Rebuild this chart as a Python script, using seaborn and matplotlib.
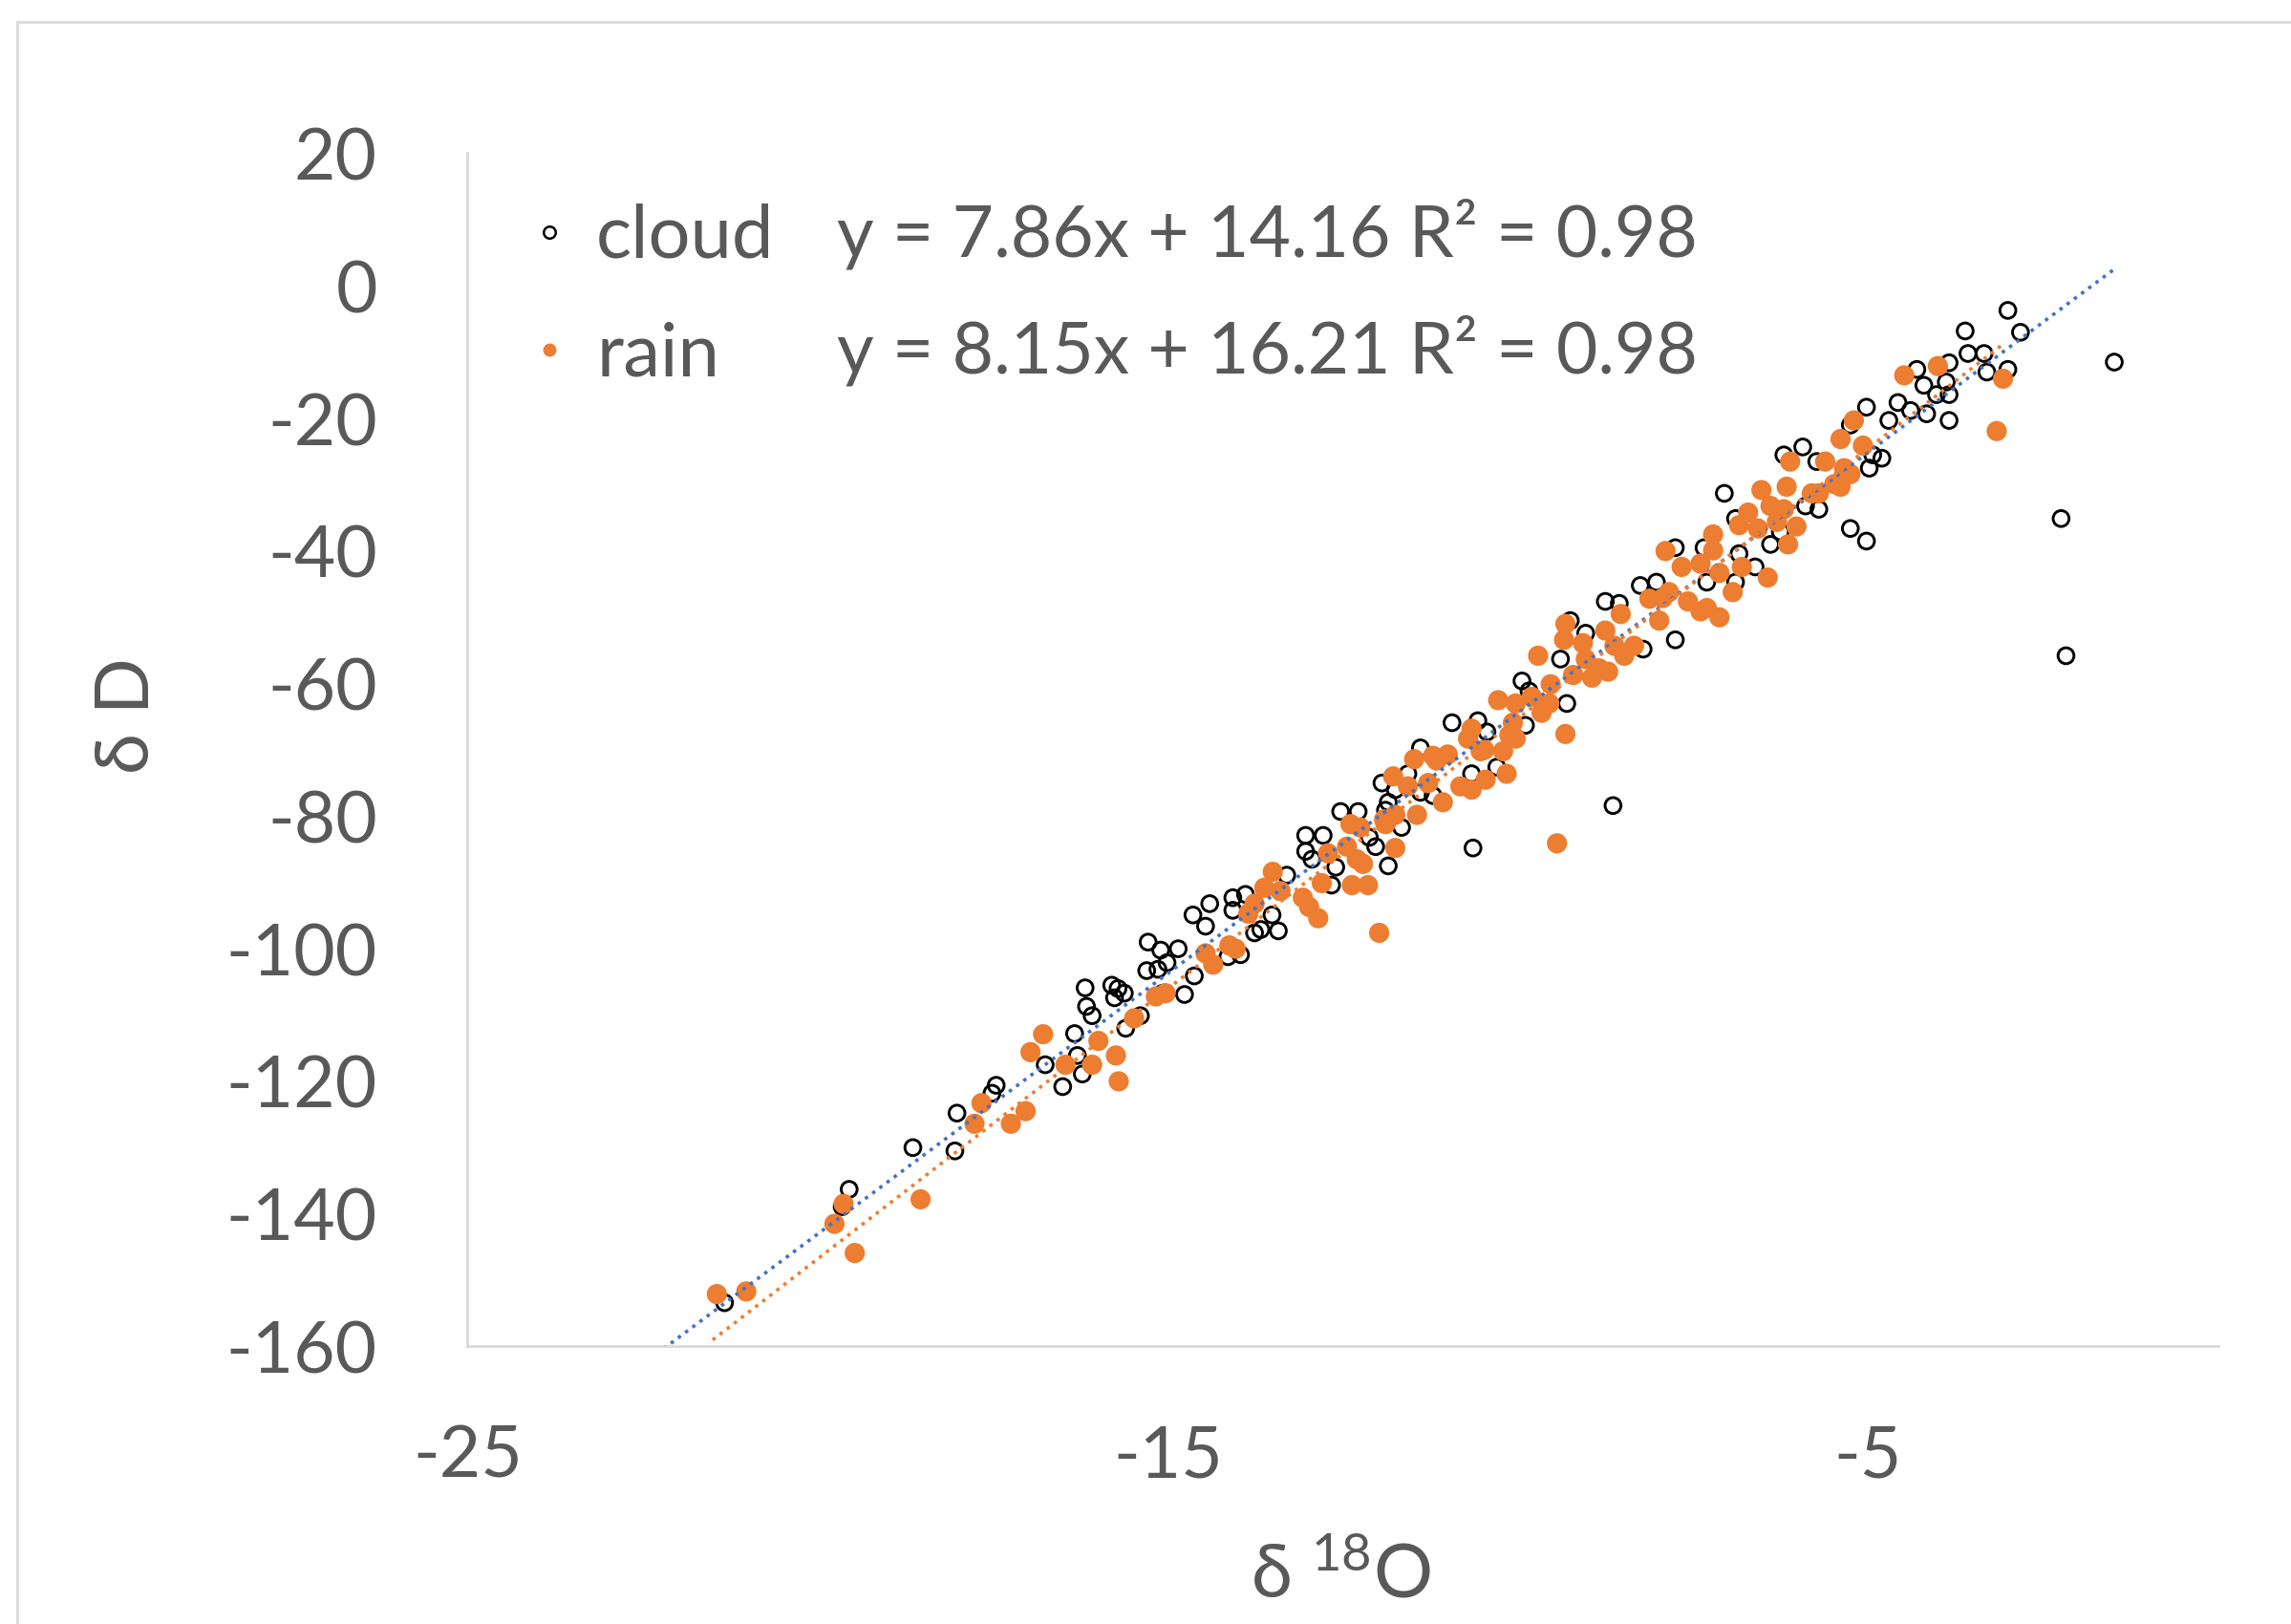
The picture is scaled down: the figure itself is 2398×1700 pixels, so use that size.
import matplotlib
matplotlib.use("Agg")
import matplotlib.pyplot as plt
from matplotlib.lines import Line2D
from matplotlib.patches import Rectangle
import numpy as np
import pandas as pd
import seaborn as sns

# δ18O / δD readings (per mil)
cloud_x = [-21.33, -19.55, -19.65, -18.64, -18.04, -18.01, -17.51, -17.45, -16.75, -16.50,
           -16.33, -16.29, -16.22, -16.18, -16.16, -16.08, -15.80, -15.71, -15.76, -15.60,
           -15.62, -15.39, -15.30, -15.28, -15.07, -15.10, -15.14, -15.01, -14.85, -14.76,
           -14.64, -14.62, -14.46, -14.40,
           -14.07, -13.89, -14.07, -13.67, -13.42, -13.76, -13.96, -13.30, -13.03, -12.78,
           -13.03, -12.94, -12.66, -12.53, -12.28, -12.12, -14.14, -13.51, -12.60,
           -12.03, -11.85, -11.66, -11.39, -11.21, -11.94, -11.75, -11.85, -11.57, -11.39,
           -10.94, -10.57, -10.66, -10.30, -10.44, -10.64, -11.89,
           -9.94, -9.84, -9.39, -9.25, -9.03, -8.75, -8.55, -8.21, -8.25, -9.30,
           -9.89, -8.64,
           -8.02, -7.75, -7.34, -7.30, -6.89, -6.89, -7.05, -6.84, -6.61, -6.39,
           -7.75,
           -5.93, -6.20, -5.02, -5.25, -4.93, -4.80, -4.98, -4.70, -4.57, -4.39,
           -4.30, -4.20, -4.16, -4.02, -3.88, -3.84, -3.84, -3.84, -3.57, -3.34,
           -3.30, -5.25, -6.25, -5.89, -5.70, -5.73, -5.02,
           -3.61, -3.00, -3.00, -2.82, -1.48, -2.24, -2.17]
cloud_y = [-153.4, -136.3, -138.9, -130.0, -130.5, -124.8, -121.8, -120.6, -117.5, -120.8,
           -112.8, -116.1, -118.9, -105.9, -108.7, -110.1, -105.5, -106.0, -107.4, -112.0,
           -106.7, -110.1, -103.3, -99.0, -106.7, -100.2, -103.1, -102.1, -100.0, -106.9,
           -94.9, -104.1, -96.6, -93.2,
           -92.3, -91.8, -94.2, -97.1, -97.3, -97.6, -100.9, -88.9, -82.9, -82.9,
           -85.3, -86.5, -90.4, -79.3, -79.3, -83.2, -101.2, -94.9, -87.7,
           -84.6, -87.5, -81.7, -76.4, -76.9, -75.0, -76.0, -77.9, -73.6, -69.7,
           -65.9, -65.6, -73.6, -72.6, -67.3, -84.8, -79.1,
           -59.6, -61.1, -56.3, -50.5, -52.4, -47.6, -47.9, -54.8, -45.2, -63.0,
           -66.3, -78.4,
           -44.7, -39.5, -39.5, -44.7, -44.7, -35.1, -31.3, -40.4, -42.4, -39.0,
           -53.4,
           -24.3, -25.5, -18.3, -21.0, -25.5, -26.0, -27.5, -20.3, -17.6, -18.8,
           -12.6, -15.0, -19.3, -16.4, -14.5, -11.6, -16.4, -20.3, -10.2, -10.2,
           -13.0, -36.6, -37.1, -33.2, -33.7, -26.5, -38.5,
           -6.8, -12.6, -3.7, -7.0, -11.5, -35.1, -55.8]

rain_x = [-21.44, -21.02, -19.76, -19.63, -19.47, -18.53, -17.76, -17.66, -17.24, -17.03,
          -16.96, -16.78, -16.46, -16.08, -15.99, -15.74, -15.70, -15.48, -15.17, -15.03,
          -14.46, -14.35,
          -14.12, -14.03, -13.85, -13.76, -13.62, -13.50, -13.39, -13.07, -12.98, -12.85,
          -12.80, -12.71, -12.44, -12.30, -12.21, -12.39, -12.25, -12.37, -12.14,
          -11.98, -11.89, -11.75, -11.78, -11.91, -11.75, -11.57, -11.48, -11.44, -11.28,
          -11.16, -11.07, -11.00, -10.82, -10.66, -10.71, -10.66, -10.48, -10.46, -10.21,
          -10.16, -10.28, -10.53, -11.21,
          -10.07, -10.03, -9.71, -9.80, -9.66, -9.53, -9.32, -9.34, -9.32, -9.07,
          -9.03, -8.84, -8.71, -8.75, -8.62, -8.53, -8.48, -10.12, -10.03, -9.21,
          -8.94, -9.44, -9.55, -8.34,
          -8.12, -7.89, -7.98, -7.66, -7.57, -7.39, -7.21, -7.21, -7.30, -7.12,
          -7.12, -6.93, -6.84, -6.80, -6.71, -6.52, -6.57, -6.43, -6.39, -7.93,
          -7.39, -7.84,
          -6.11, -6.16, -6.20, -6.02, -5.80, -5.61, -5.39, -5.48, -5.34, -5.20,
          -5.07, -5.25, -4.48, -4.00, -3.16, -3.07, -6.14, -5.70, -5.39, -6.30]
rain_y = [-152.1, -151.7, -141.5, -138.5, -145.9, -137.8, -126.4, -123.3, -126.4, -124.5,
          -115.6, -112.9, -117.5, -117.5, -113.9, -116.1, -120.0, -110.5, -107.2, -106.7,
          -100.7, -102.4,
          -99.5, -100.0, -94.7, -93.2, -90.8, -88.4, -91.3, -92.3, -93.7, -95.4,
          -90.1, -85.6, -84.6, -86.5, -87.2, -81.2, -81.7, -90.4, -90.4,
          -97.6, -81.2, -84.8, -74.0, -80.5, -79.8, -75.5, -71.4, -79.8, -75.0,
          -71.6, -77.9, -70.7, -75.5, -76.0, -68.3, -66.8, -70.0, -74.5, -70.2,
          -73.6, -62.5, -70.2, -70.9,
          -65.9, -63.0, -55.8, -62.0, -64.4, -60.1, -51.0, -53.4, -67.6, -53.9,
          -56.3, -57.7, -58.2, -52.0, -54.3, -49.5, -55.8, -67.8, -68.3, -58.7,
          -59.1, -84.1, -63.0, -54.3,
          -47.2, -40.0, -50.5, -42.4, -47.6, -41.9, -37.5, -39.9, -48.6, -50.0,
          -43.3, -46.2, -36.1, -42.4, -34.2, -30.8, -36.6, -44.0, -33.2, -47.1,
          -49.1, -46.2,
          -26.5, -30.3, -33.7, -36.3, -31.3, -26.5, -23.1, -29.9, -27.5, -20.3,
          -24.1, -28.4, -13.5, -12.1, -21.9, -14.0, -39.0, -31.3, -30.3, -35.6]

# trendline coefficients (slope, intercept) and the x span they cover
cloud_fit = (7.86, 14.16)
rain_fit = (8.15, 16.21)
cloud_span = [-22.2, -1.48]
rain_span = [-21.5, -3.04]

x_ticks = [-25, -15, -5]
y_ticks = list(range(-160, 21, 20))

ORANGE = '#ED7D31'
BLUE = '#4472C4'
GREY = '#595959'

sns.set_theme(style="white")
plt.rcParams['font.family'] = ['Lato', 'DejaVu Sans']
plt.rcParams['mathtext.fontset'] = 'custom'
plt.rcParams['mathtext.rm'] = 'Lato'
plt.rcParams['axes.unicode_minus'] = False

fig = plt.figure(figsize=(11.99, 8.5), dpi=200)
fig.patch.set_facecolor('white')
fig.patches.append(Rectangle((12 / 1568, -0.1), 1.2, 1 - 15 / 1112 + 0.1,
                             transform=fig.transFigure, fill=False,
                             edgecolor='#d9d9d9', linewidth=1.0))
ax = fig.add_axes([0.2041, 0.1709, 0.7640, 0.7347])

cloud = pd.DataFrame({'d18O': cloud_x, 'dD': cloud_y})
rain = pd.DataFrame({'d18O': rain_x, 'dD': rain_y})

sns.scatterplot(data=cloud, x='d18O', y='dD', ax=ax, marker='o', s=36,
                facecolor='none', edgecolor='black', linewidth=1.05, zorder=3)
sns.scatterplot(data=rain, x='d18O', y='dD', ax=ax, marker='o', s=58,
                color=ORANGE, edgecolor='none', linewidth=0, zorder=4)

for span, (m, b), col in [(cloud_span, cloud_fit, BLUE), (rain_span, rain_fit, ORANGE)]:
    xs = np.array(span)
    sns.lineplot(x=xs, y=m * xs + b, ax=ax, color=col, linewidth=1.3,
                 linestyle=(0, (1, 1.6)), zorder=5)

ax.set_xlim(-25, 0)
ax.set_ylim(-160, 20)
ax.set_xticks(x_ticks)
ax.set_yticks(y_ticks)
ax.tick_params(axis='both', length=0, labelsize=27, labelcolor=GREY)
ax.tick_params(axis='x', pad=29)
ax.tick_params(axis='y', pad=34)
for side in ['top', 'right']:
    ax.spines[side].set_visible(False)
for side in ['left', 'bottom']:
    ax.spines[side].set_color('#d9d9d9')
    ax.spines[side].set_linewidth(1.0)
ax.grid(False)

ax.set_xlabel(r'δ $\mathregular{^{18}}$O', fontsize=28, color=GREY, va='center')
ax.xaxis.set_label_coords(0.4992, -0.1934)
ax.set_ylabel('δ D', fontsize=28, color=GREY, va='center')
ax.yaxis.set_label_coords(-0.1937, 0.5288)

handles = [Line2D([], [], marker='o', linestyle='none', markersize=4.5,
                  markerfacecolor='none', markeredgecolor='black', markeredgewidth=0.9),
           Line2D([], [], marker='o', linestyle='none', markersize=5,
                  markerfacecolor=ORANGE, markeredgecolor='none')]
leg = ax.legend(handles, ['cloud', 'rain'], loc='upper left',
                bbox_to_anchor=(0.034, 0.958), frameon=False, fontsize=28,
                handlelength=0.6, handletextpad=0.33, labelspacing=0.67,
                borderpad=0, borderaxespad=0)
for t in leg.get_texts():
    t.set_color(GREY)

ax.text(0.2112, 0.9327, f'y = {cloud_fit[0]:.2f}x + {cloud_fit[1]:.2f} R² = 0.98',
        transform=ax.transAxes, fontsize=27, color=GREY, va='center', ha='left')
ax.text(0.2112, 0.8348, f'y = {rain_fit[0]:.2f}x + {rain_fit[1]:.2f} R² = 0.98',
        transform=ax.transAxes, fontsize=27, color=GREY, va='center', ha='left')

plt.savefig('out.png', dpi=200, facecolor='white')
plt.close()
